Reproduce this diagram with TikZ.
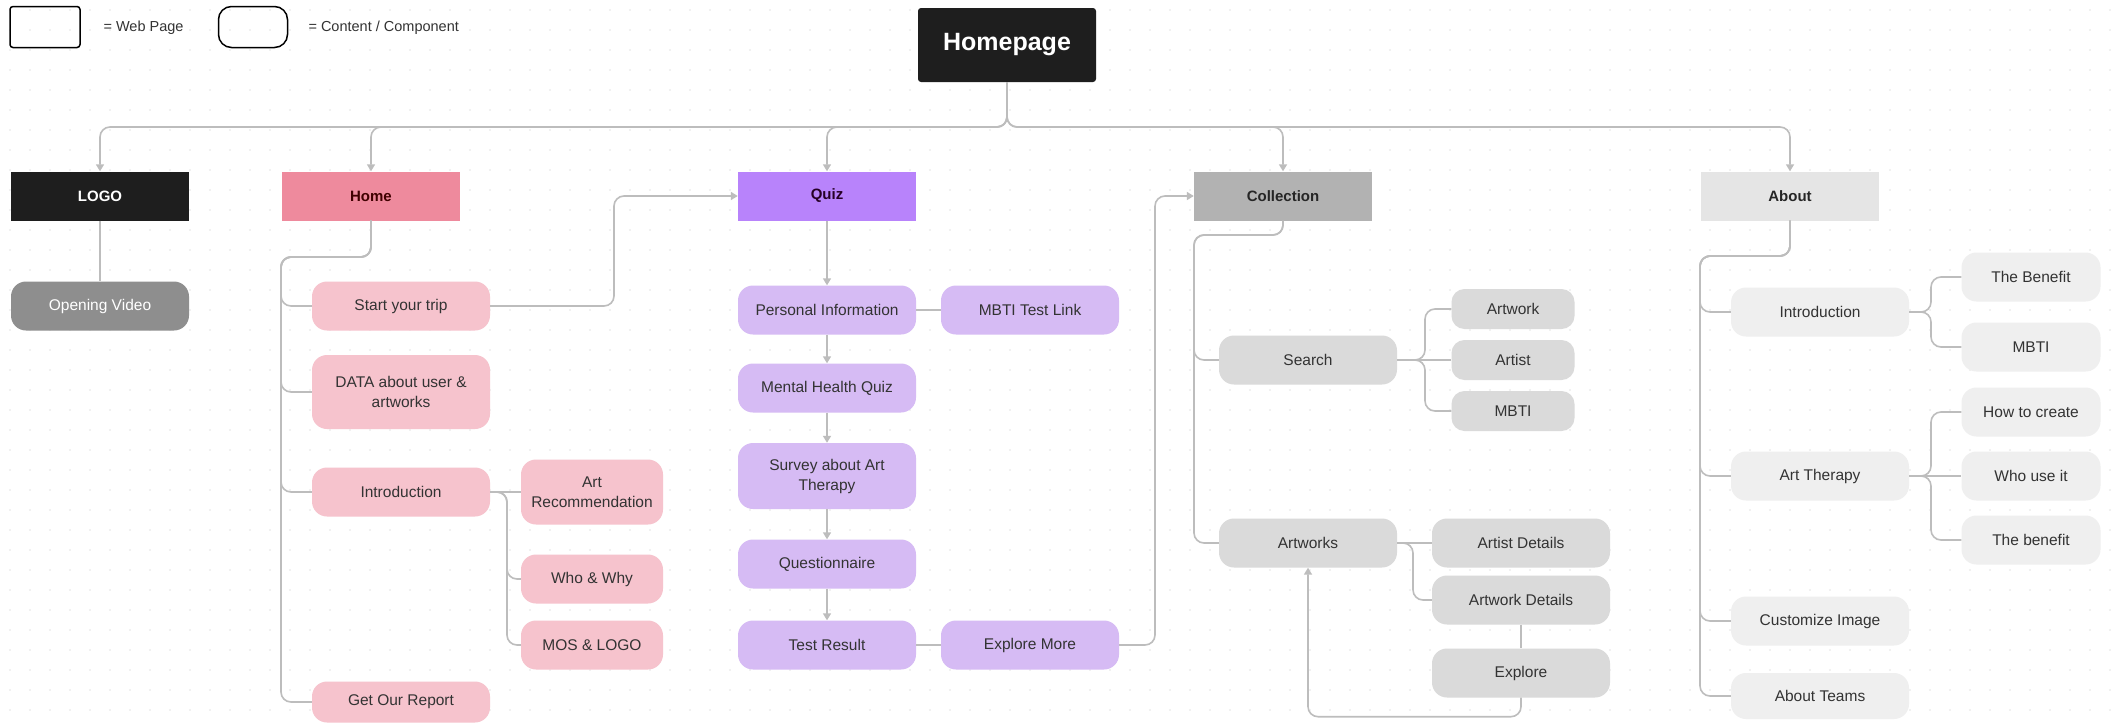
\documentclass[tikz,border=0pt]{standalone}
\usepackage{fontspec}
\setmainfont{Liberation Sans}
\usetikzlibrary{arrows.meta,positioning}

\definecolor{inkblack}{HTML}{1E1E1E}
\definecolor{homepink}{HTML}{EE8A9D}
\definecolor{homelight}{HTML}{F6C3CD}
\definecolor{quizpurple}{HTML}{B883FB}
\definecolor{quizlight}{HTML}{D6BBF4}
\definecolor{collgray}{HTML}{B2B2B2}
\definecolor{colllight}{HTML}{DADADA}
\definecolor{aboutgray}{HTML}{E5E5E5}
\definecolor{aboutlight}{HTML}{EFEFEF}
\definecolor{videogray}{HTML}{8E8E8E}
\definecolor{linegray}{HTML}{BDBDBD}
\definecolor{dotgray}{HTML}{E4E4E4}
\definecolor{textdark}{HTML}{333333}

\tikzset{
    page/.style={rectangle, minimum width=178pt, minimum height=49pt, inner sep=0pt,
        font=\bfseries\fontsize{15}{18}\selectfont},
    item/.style={rectangle, rounded corners=15pt, minimum width=178pt, minimum height=49pt,
        inner sep=0pt, align=center, text=textdark, font=\fontsize{15.5}{20}\selectfont},
    small/.style={item, minimum width=#1},
    link/.style={draw=linegray, line width=1.6pt, rounded corners=10pt},
    arrow/.style={link, -{Triangle[width=8pt,length=7pt]}},
    keytext/.style={anchor=west, text=textdark, font=\fontsize{14.5}{17}\selectfont},
}

\begin{document}
\begin{tikzpicture}[x=1pt, y=-1pt]
    \useasboundingbox (0,0) rectangle (2111,723);
    \fill[white] (0,0) rectangle (2111,723);
    \foreach \gx in {10,30,...,2110}
        \foreach \gy in {10,30,...,720}
            \fill[dotgray] (\gx,\gy) circle (0.9pt);

    % legend
    \node[draw=black, line width=1.5pt, rounded corners=3pt, minimum width=70pt, minimum height=41pt] (webkey) at (45,27) {};
    \node[keytext] (webtext) at (100,28) {= Web Page};
    \node[draw=black, line width=1.5pt, rounded corners=13pt, minimum width=69pt, minimum height=41pt] (compkey) at (253,27) {};
    \node[keytext] (comptext) at (305,28) {= Content / Component};

    % pages
    \node[page, fill=inkblack, text=white, rounded corners=3pt, minimum height=74pt,
        font=\bfseries\fontsize{25}{30}\selectfont] (hp) at (1007,45) {Homepage};
    \node[page, fill=inkblack, text=white] (logo) at (100,196) {LOGO};
    \node[page, fill=homepink, text=black!75!red] (home) at (371,196) {Home};
    \node[page, fill=quizpurple, text=black!70!violet] (quiz) at (827,196) {Quiz};
    \node[page, fill=collgray, text=black!85] (coll) at (1283,196) {Collection};
    \node[page, fill=aboutgray, text=black!85] (about) at (1790,196) {About};

    % logo
    \node[item, fill=videogray, text=white] (video) at (100,306) {Opening Video};

    % home
    \node[item, fill=homelight] (trip) at (401,306) {Start your trip};
    \node[item, fill=homelight, minimum height=74pt] (data) at (401,392) {DATA about user \&\\artworks};
    \node[item, fill=homelight] (hintro) at (401,492) {Introduction};
    \node[item, fill=homelight, minimum height=41pt] (report) at (401,702) {Get Our Report};
    \node[small=142pt, fill=homelight, minimum height=65pt] (artrec) at (592,492) {Art\\Recommendation};
    \node[small=142pt, fill=homelight] (whowhy) at (592,579) {Who \& Why};
    \node[small=142pt, fill=homelight] (mos) at (592,645) {MOS \& LOGO};

    % quiz
    \node[item, fill=quizlight] (pinfo) at (827,310) {Personal Information};
    \node[item, fill=quizlight] (mbtilink) at (1030,310) {MBTI Test Link};
    \node[item, fill=quizlight] (mhq) at (827,388) {Mental Health Quiz};
    \node[item, fill=quizlight, minimum height=66pt] (survey) at (827,476) {Survey about Art\\Therapy};
    \node[item, fill=quizlight] (quest) at (827,564) {Questionnaire};
    \node[item, fill=quizlight] (result) at (827,645) {Test Result};
    \node[item, fill=quizlight] (exmore) at (1030,645) {Explore More};

    % collection
    \node[item, fill=colllight] (search) at (1308,360) {Search};
    \node[item, fill=colllight] (artworks) at (1308,543) {Artworks};
    \node[small=123pt, fill=colllight, minimum height=40pt, rounded corners=13pt] (sartwork) at (1513,309) {Artwork};
    \node[small=123pt, fill=colllight, minimum height=40pt, rounded corners=13pt] (sartist) at (1513,360) {Artist};
    \node[small=123pt, fill=colllight, minimum height=40pt, rounded corners=13pt] (smbti) at (1513,411) {MBTI};
    \node[item, fill=colllight] (artistd) at (1521,543) {Artist Details};
    \node[item, fill=colllight] (artworkd) at (1521,600) {Artwork Details};
    \node[item, fill=colllight] (explore) at (1521,673) {Explore};

    % about
    \node[item, fill=aboutlight] (aintro) at (1820,312) {Introduction};
    \node[item, fill=aboutlight] (therapy) at (1820,476) {Art Therapy};
    \node[item, fill=aboutlight] (custom) at (1820,621) {Customize Image};
    \node[item, fill=aboutlight, minimum height=46pt] (teams) at (1820,696) {About Teams};
    \node[small=139pt, fill=aboutlight] (benefit) at (2031,277) {The Benefit};
    \node[small=139pt, fill=aboutlight] (ambti) at (2031,347) {MBTI};
    \node[small=139pt, fill=aboutlight] (howto) at (2031,412) {How to create};
    \node[small=139pt, fill=aboutlight] (whouse) at (2031,476) {Who use it};
    \node[small=139pt, fill=aboutlight] (thebenefit) at (2031,540) {The benefit};

    % junctions
    \coordinate (hpj) at (1007,127);
    \coordinate (homej) at (281,257);
    \coordinate (collj) at (1194,235);
    \coordinate (aboutj) at (1700,256);

    % connectors
    \foreach \t in {logo,home,quiz,coll,about}
        \draw[arrow] (hp.south) -- (hpj) -| (\t.north);
    \draw[link] (logo) -- (video);

    \foreach \t in {trip,data,hintro,report}
        \draw[link] (home.south) |- (homej) |- (\t.west);
    \draw[link] (hintro) -- (artrec);
    \foreach \t in {whowhy,mos}
        \draw[link] (hintro.east) -- (507,492) |- (\t.west);
    \draw[arrow] (trip.east) -| (614,250) |- (quiz.west);

    \draw[arrow] (quiz) -- (pinfo);
    \draw[arrow] (pinfo) -- (mhq);
    \draw[arrow] (mhq) -- (survey);
    \draw[arrow] (survey) -- (quest);
    \draw[arrow] (quest) -- (result);
    \draw[link] (pinfo) -- (mbtilink);
    \draw[link] (result) -- (exmore);
    \draw[arrow] (exmore.east) -| (1155,400) |- (coll.west);

    \foreach \t in {search,artworks}
        \draw[link] (coll.south) |- (collj) |- (\t.west);
    \draw[link] (search) -- (sartist);
    \foreach \t in {sartwork,smbti}
        \draw[link] (search.east) -- (1425,360) |- (\t.west);
    \draw[link] (artworks) -- (artistd);
    \draw[link] (artworks.east) -- (1413,543) |- (artworkd.west);
    \draw[link] (artworkd) -- (explore);
    \draw[arrow] (explore.south) -- ++(0,19) -| (artworks.south);

    \foreach \t in {aintro,therapy,custom,teams}
        \draw[link] (about.south) |- (aboutj) |- (\t.west);
    \foreach \t in {benefit,ambti}
        \draw[link] (aintro.east) -- (1931,312) |- (\t.west);
    \draw[link] (therapy) -- (whouse);
    \foreach \t in {howto,thebenefit}
        \draw[link] (therapy.east) -- (1931,476) |- (\t.west);
\end{tikzpicture}
\end{document}
